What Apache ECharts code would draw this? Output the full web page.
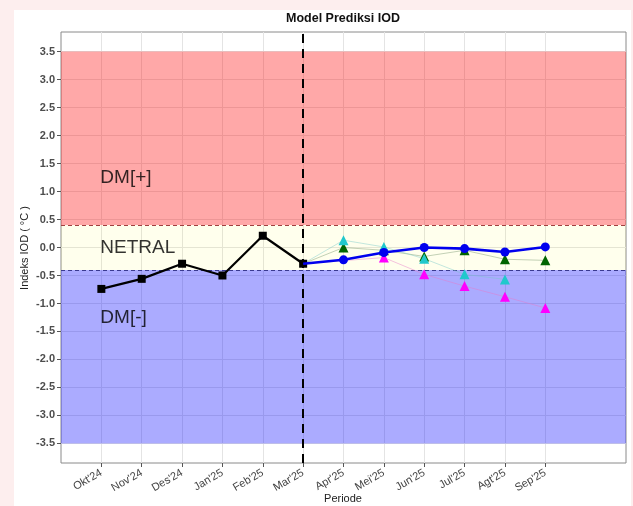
<!DOCTYPE html>
<html>
<head>
<meta charset="utf-8">
<script src="https://cdn.jsdelivr.net/npm/echarts@6/dist/echarts.min.js"></script>
<style>
html,body{margin:0;padding:0;background:#fdeeee;}
#c{width:633px;height:506px;}
</style>
</head>
<body>
<div id="c"></div>
<script>
const categories = ["Okt'24","Nov'24","Des'24","Jan'25","Feb'25","Mar'25","Apr'25","Mei'25","Jun'25","Jul'25","Agt'25","Sep'25"];
const yTicks = [-3.5,-3.0,-2.5,-2.0,-1.5,-1.0,-0.5,0.0,0.5,1.0,1.5,2.0,2.5,3.0,3.5];
const observed = [-0.74,-0.56,-0.29,-0.50,0.21,-0.29,null,null,null,null,null,null];
const modelBlue = [null,null,null,null,null,-0.29,-0.22,-0.09,0.00,-0.02,-0.08,0.01];
const modelGreen = [null,null,null,null,null,-0.29,0.00,-0.05,-0.16,-0.05,-0.21,-0.23];
const modelCyan = [null,null,null,null,null,-0.29,0.13,0.01,-0.20,-0.48,-0.57,null];
const modelMagenta = [null,null,null,null,null,-0.29,null,-0.18,-0.48,-0.69,-0.88,-1.08];
const bandUpper = 3.5, bandLower = -3.5, neutralHi = 0.4, neutralLo = -0.4;
const forecastStart = 5;
const zoneLabels = [["DM[+]",1.25],["NETRAL",0.0],["DM[-]",-1.25]];
const xTitle = 'Periode';
const yTitle = 'Indeks IOD ( °C )';

const toPairs = (arr, skipFirst) => arr.map((v,i)=> v===null ? null : {value:[i,v], symbol: (skipFirst && i===forecastStart) ? 'none' : undefined}).filter(d=>d!==null);

const chart = echarts.init(document.getElementById('c'), null, {renderer:'canvas'});
const font = 'Liberation Sans, Arial, sans-serif';
const xTickVals = categories.map((_,i)=>i);

const triSeries = (name, data, color, lineColor) => ({
  name, type:'line', data: toPairs(data, true), connectNulls:true,
  symbol:'triangle', symbolSize:10, showSymbol:true,
  itemStyle:{color}, lineStyle:{color:lineColor, width:1},
  z:5, animation:false
});

chart.setOption({
  backgroundColor:'#fdeeee',
  animation:false,
  graphic:[
    {type:'rect', shape:{x:14,y:10,width:617,height:500}, style:{fill:'#ffffff'}, z:-10, silent:true},
    {type:'text', x:343, y:499, silent:true, style:{text:xTitle, fontFamily:font, fontSize:11, fill:'#222', align:'center', verticalAlign:'middle'}},
    {type:'text', x:25, y:248, rotation:Math.PI/2, silent:true, style:{text:yTitle, fontFamily:font, fontSize:11, fill:'#222', align:'center', verticalAlign:'middle'}},
    {type:'text', x:343, y:19, silent:true, style:{text:'Model Prediksi IOD', fontFamily:font, fontSize:12.5, fontWeight:'bold', fill:'#111', align:'center', verticalAlign:'middle'}}
  ],
  grid:{left:61, top:32, right:7, bottom:43, containLabel:false, outerBoundsMode:'none',
    show:true, borderColor:'#8a8a8a', borderWidth:1, backgroundColor:'transparent'},
  xAxis:{type:'value', min:-1, max:13, interval:1,
    axisLine:{show:false, onZero:false},
    axisTick:{show:true, length:4, customValues:xTickVals, lineStyle:{color:'#555'}},
    axisLabel:{customValues:xTickVals, rotate:30, fontFamily:font, fontSize:11, color:'#444', margin:9,
      formatter:(v)=> categories[Math.round(v)] || ''},
    splitLine:{show:true, lineStyle:{color:'#e4e4e4', width:1}}
  },
  yAxis:{type:'value', min:-3.85, max:3.85,
    axisLine:{show:false, onZero:false},
    axisTick:{show:true, length:4, customValues:yTicks, lineStyle:{color:'#555'}},
    axisLabel:{customValues:yTicks, fontFamily:font, fontSize:11, fontWeight:'bold', color:'#4d4d4d', margin:6,
      formatter:(v)=> v.toFixed(1)},
    splitLine:{show:true, lineStyle:{color:'#e4e4e4', width:1}}
  },
  series:[
    {name:'bands', type:'line', data:[], silent:true, z:1,
      markArea:{silent:true, data:[
        [{yAxis:neutralHi, itemStyle:{color:'rgba(255,0,0,0.34)'}},{yAxis:bandUpper}],
        [{yAxis:neutralLo, itemStyle:{color:'rgba(255,255,0,0.07)'}},{yAxis:neutralHi}],
        [{yAxis:bandLower, itemStyle:{color:'rgba(0,0,255,0.33)'}},{yAxis:neutralLo}]
      ]},
      markLine:{silent:true, symbol:'none', label:{show:false}, data:[
        {yAxis:neutralHi, lineStyle:{color:'#a04040', type:[4,3], width:1}},
        {yAxis:neutralLo, lineStyle:{color:'#3a3a90', type:[4,3], width:1}},
        {xAxis:forecastStart, lineStyle:{color:'#000', type:[9,6], width:2}}
      ]}
    },
    {name:'labels', type:'scatter', symbolSize:0, silent:true, z:8,
      data: zoneLabels.map(l=>({value:[0,l[1]], name:l[0]})),
      label:{show:true, position:'right', distance:-1, formatter:(p)=>p.name,
        fontFamily:font, fontSize:19, color:'#000'}
    },
    {name:'Observasi', type:'line', data: toPairs(observed,false), symbol:'rect', symbolSize:8,
      itemStyle:{color:'#000'}, lineStyle:{color:'#000', width:2.2}, z:6},
    triSeries('Model A', modelGreen, '#006400', 'rgba(120,150,110,0.45)'),
    triSeries('Model B', modelCyan, '#20c8cc', 'rgba(120,200,200,0.45)'),
    triSeries('Model C', modelMagenta, '#ff00ff', 'rgba(230,120,200,0.45)'),
    {name:'Rata-rata', type:'line', data: toPairs(modelBlue,true), symbol:'circle', symbolSize:9,
      itemStyle:{color:'#0000ee'}, lineStyle:{color:'#0000ee', width:2.6}, z:7}
  ]
});
</script>
</body>
</html>
